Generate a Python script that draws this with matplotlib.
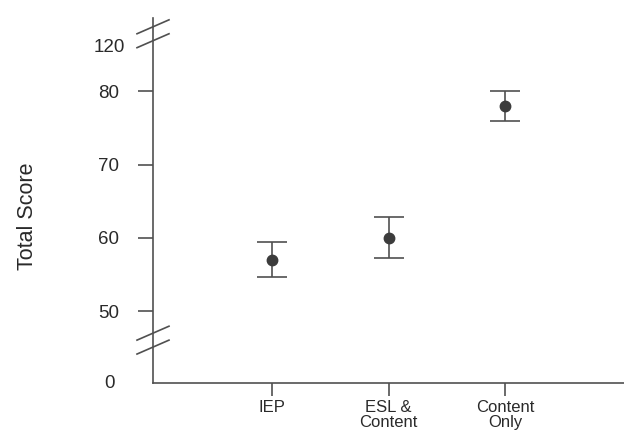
import numpy as np
import matplotlib
matplotlib.use('Agg')
import matplotlib.pyplot as plt
import matplotlib.transforms as mtransforms

plt.rcParams['font.family'] = ['Liberation Sans', 'DejaVu Sans']

# data
groups = ['IEP', 'ESL &\nContent', 'Content\nOnly']
means = [57.0, 60.0, 78.0]
lower = [54.6, 57.3, 76.0]
upper = [59.5, 62.9, 80.0]

# broken axis: 0 and 120 are drawn at compressed positions
main_ticks = [50, 60, 70, 80]
break_ticks = ['0', '120']
break_pos = [40.2, 86.0]

LINE = '#505050'
TEXT = '#2a2a2a'

fig = plt.figure(figsize=(6.24, 4.45), dpi=100)
ax_w = 624 - 153
ax = fig.add_axes([153 / 624, 1 - 383 / 445, ax_w / 624, (383 - 18) / 445])

x = np.arange(1, len(groups) + 1)
yerr = [np.array(means) - np.array(lower), np.array(upper) - np.array(means)]
ax.errorbar(x, means, yerr=yerr, fmt='o', color=LINE, ecolor=LINE,
            markersize=7.5, markerfacecolor='#3c3c3c', markeredgecolor='#3c3c3c',
            elinewidth=1.2, capsize=11, capthick=1.2)

ax.set_xlim(-0.02, 4.02)
ax.set_ylim(40.2, 90)

for s in ['top', 'right']:
    ax.spines[s].set_visible(False)
for s in ['left', 'bottom']:
    ax.spines[s].set_color(LINE)
    ax.spines[s].set_linewidth(1.2)

ax.set_xticks(x)
ax.set_xticklabels(groups, fontsize=12, color=TEXT, linespacing=1.0)
ax.set_yticks(main_ticks)
ax.set_yticklabels([str(t) for t in main_ticks], fontsize=13.5, color=TEXT)
ax.tick_params(axis='y', direction='out', length=11, width=1.2,
               color=LINE, pad=13.5)
ax.tick_params(axis='x', direction='out', length=9.5, width=1.2, color=LINE, pad=3)

# labels at the broken ends, no tick marks
trans = mtransforms.blended_transform_factory(ax.transAxes, ax.transData)
for lab, pos, right_px in zip(break_ticks, break_pos, [115, 125]):
    ax.text(-(153 - right_px) / ax_w, pos, lab, transform=trans, ha='right',
            va='center', fontsize=13.5, color=TEXT)

ax.set_ylabel('Total Score', fontsize=15.5, color=TEXT)
ax.yaxis.set_label_coords(-(153 - 38) / ax_w, (62.9 - 40.2) / (90 - 40.2))

# break marks on the y axis
dx = 16 / ax_w
for yc in [45.1, 47.0, 86.9, 88.8]:
    ax.plot([-dx, dx], [yc - 0.95, yc + 0.95], color=LINE, lw=1.2,
            transform=trans, clip_on=False)

plt.savefig('out.png', dpi=100)
plt.close()
